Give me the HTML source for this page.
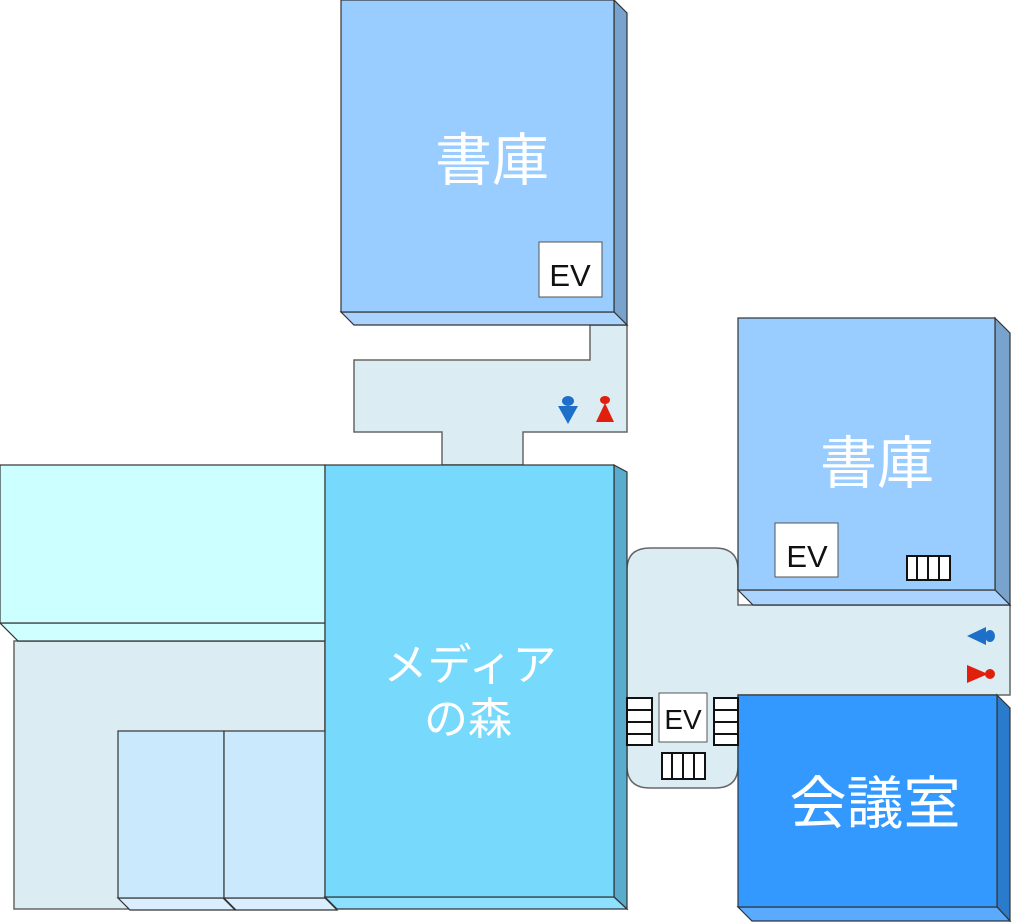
<!DOCTYPE html>
<html><head><meta charset="utf-8"><style>
html,body{margin:0;padding:0;background:#fff;}
svg{display:block;}
text{font-family:"Liberation Sans","Noto Sans CJK JP",sans-serif;}
</style></head><body>
<svg width="1024" height="922" viewBox="0 0 1024 922" xmlns="http://www.w3.org/2000/svg">
<g stroke="#666" stroke-width="1.5">
<path d="M590,325 L627,325 L627,432 L523,432 L523,465 L442,465 L442,432 L354,432 L354,360 L590,360 Z" fill="#dbedf3"/>
<rect x="14" y="641" width="311" height="268" fill="#dbedf3"/>
<path d="M650,548 L715,548 Q738,548 738,570 L738,605 L1010,605 L1010,695 L738,695 L738,766 Q738,788 715,788 L650,788 Q627,788 627,766 L627,570 Q627,548 650,548 Z" fill="#dbedf3"/>
</g>
<g stroke="#333" stroke-width="1.2">
<polygon points="614,0 627,13 627,325 614,312" fill="#77a3cc"/>
<polygon points="341,312 614,312 627,325 354,325" fill="#aad4ff"/>
<rect x="341" y="0" width="273" height="312" fill="#99ccff"/>
<polygon points="0,623 325,623 325,641 18,641" fill="#d0ffff"/>
<rect x="0" y="465" width="325" height="158" fill="#ccffff"/>
<polygon points="118,898 223,898 235,910 130,910" fill="#daeeff"/>
<polygon points="224,898 325,898 337,910 236,910" fill="#daeeff"/>
<rect x="118" y="731" width="106" height="167" fill="#cae9fc"/>
<rect x="224" y="731" width="101" height="167" fill="#cae9fc"/>
<polygon points="614,465 627,472 627,909 614,897" fill="#5aaccc"/>
<polygon points="325,897 614,897 627,909 337,909" fill="#8ee0ff"/>
<rect x="325" y="465" width="289" height="432" fill="#77d9fb"/>
<polygon points="995,318 1010,333 1010,605 995,590" fill="#77a3cc"/>
<polygon points="738,590 995,590 1010,605 753,605" fill="#aad4ff"/>
<rect x="738" y="318" width="257" height="272" fill="#99ccff"/>
<polygon points="997,695 1010,708 1010,921 997,907" fill="#2a7bcc"/>
<polygon points="738,907 997,907 1010,921 752,921" fill="#5aaaff"/>
<rect x="738" y="695" width="259" height="212" fill="#3399ff"/>
</g>
<g stroke="#555" stroke-width="1" fill="#fff">
<rect x="539" y="242" width="63" height="55"/>
<rect x="775" y="523" width="63" height="54"/>
<rect x="659" y="693" width="48" height="49"/>
</g>
<g font-size="31" fill="#111" text-anchor="middle">
<text x="570" y="286">EV</text>
<text x="807" y="567">EV</text>
<text x="683" y="729" font-size="28">EV</text>
</g>
<g stroke="#111" stroke-width="2" fill="#fff">
<rect x="907" y="556" width="43" height="24"/>
<line x1="917" y1="556" x2="917" y2="580"/><line x1="928" y1="556" x2="928" y2="580"/><line x1="939" y1="556" x2="939" y2="580"/>
<rect x="662" y="753" width="43" height="26"/>
<line x1="672" y1="753" x2="672" y2="779"/><line x1="683" y1="753" x2="683" y2="779"/><line x1="694" y1="753" x2="694" y2="779"/>
<rect x="627" y="698" width="25" height="47"/>
<line x1="627" y1="710" x2="652" y2="710"/><line x1="627" y1="722" x2="652" y2="722"/><line x1="627" y1="734" x2="652" y2="734"/>
<rect x="714" y="698" width="24" height="47"/>
<line x1="714" y1="710" x2="738" y2="710"/><line x1="714" y1="722" x2="738" y2="722"/><line x1="714" y1="734" x2="738" y2="734"/>
</g>
<g>
<ellipse cx="568" cy="401" rx="6" ry="5" fill="#1e6fc8"/>
<polygon points="558,406 578,406 568,424" fill="#1e6fc8"/>
<ellipse cx="605" cy="400" rx="5" ry="4" fill="#e0200c"/>
<polygon points="605,403 596,422 614,422" fill="#e0200c"/>
<ellipse cx="990" cy="636" rx="5" ry="6" fill="#1e6fc8"/>
<polygon points="967,636 986,627 986,645" fill="#1e6fc8"/>
<ellipse cx="990" cy="674" rx="5" ry="5" fill="#e0200c"/>
<polygon points="967,665 967,683 988,674" fill="#e0200c"/>
</g>
<g fill="#fff" text-anchor="middle">
<text x="492" y="180" font-size="57">書庫</text>
<text x="877" y="483" font-size="57">書庫</text>
<text x="875" y="823" font-size="57">会議室</text>
<text x="470" y="680" font-size="44">メディア</text>
<text x="468" y="734" font-size="44">の森</text>
</g>
</svg>
</body></html>
